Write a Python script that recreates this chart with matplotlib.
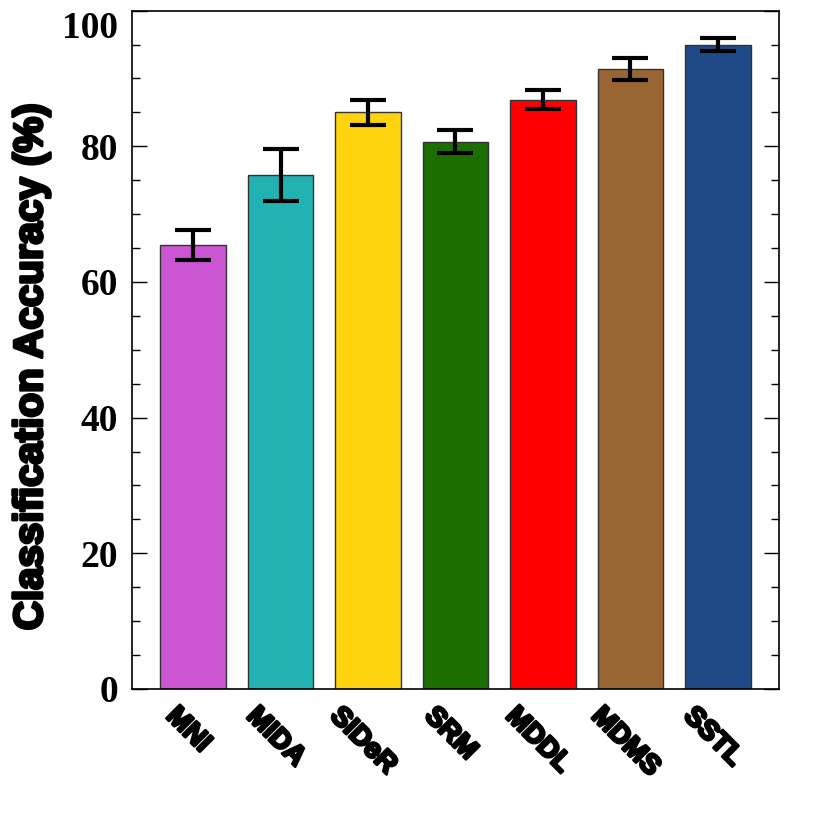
import numpy as np
import matplotlib
matplotlib.use('Agg')
import matplotlib.pyplot as plt
import matplotlib.patheffects as pe
import matplotlib.transforms as mtransforms
from matplotlib.ticker import MultipleLocator

methods = ['MNI', 'MIDA', 'SIDeR', 'SRM', 'MDDL', 'MDMS', 'SSTL']
accuracy = [65.5, 75.8, 85.0, 80.7, 86.9, 91.4, 95.0]
std = [2.2, 3.8, 1.9, 1.65, 1.35, 1.6, 0.95]
colors = ['#CC55D4', '#22B2B2', '#FFD30E', '#1A6E02', '#FF0000',
          '#996633', '#204A87']
yticks = [0, 20, 40, 60, 80, 100]

fig = plt.figure(figsize=(8.14, 8.14), dpi=100)
ax = fig.add_axes([0.162, 0.1536, 0.795, 0.8333])

x = np.arange(len(methods))
ax.bar(x, accuracy, width=0.75, color=colors, edgecolor='#333333',
       linewidth=1.0, zorder=2)
ax.errorbar(x, accuracy, yerr=std, fmt='none', ecolor='black',
            elinewidth=3.0, capsize=13, capthick=3.0, zorder=3)

ax.set_xlim(-0.7, 6.7)
ax.set_ylim(0, 100)
ax.yaxis.set_minor_locator(MultipleLocator(5))
ax.tick_params(axis='y', which='major', direction='in', length=11,
               width=1.0, left=True, right=True, pad=10)
ax.tick_params(axis='y', which='minor', direction='in', length=6,
               width=1.0, left=True, right=True)
ax.tick_params(axis='x', length=0, pad=10)
for s in ax.spines.values():
    s.set_linewidth(1.2)

ax.set_yticks(yticks)
labels = ax.set_yticklabels([str(v) for v in yticks],
                            fontfamily='Liberation Serif',
                            fontweight='bold', fontsize=27)
for lab in labels:
    lab.set_verticalalignment('center_baseline')
labels[-1].set_verticalalignment('top')

ax.set_xticks(x)
xlabs = ax.set_xticklabels(methods, rotation=-45, ha='center',
                           fontfamily='Liberation Sans', fontweight='bold',
                           fontsize=20,
                           path_effects=[pe.withStroke(linewidth=2.0,
                                                       foreground='black')])
# nudge the rotated names a little to the left
shift = mtransforms.ScaledTranslation(-5 / 100, 0, fig.dpi_scale_trans)
for lab in xlabs:
    lab.set_transform(lab.get_transform() + shift)

fig.text(0.038, 0.549, 'Classification Accuracy (%)', rotation=90,
         ha='center', va='center', fontfamily='Liberation Sans',
         fontweight='bold', fontsize=29,
         path_effects=[pe.withStroke(linewidth=2.2, foreground='black')])

plt.savefig('out.png', dpi=100)
